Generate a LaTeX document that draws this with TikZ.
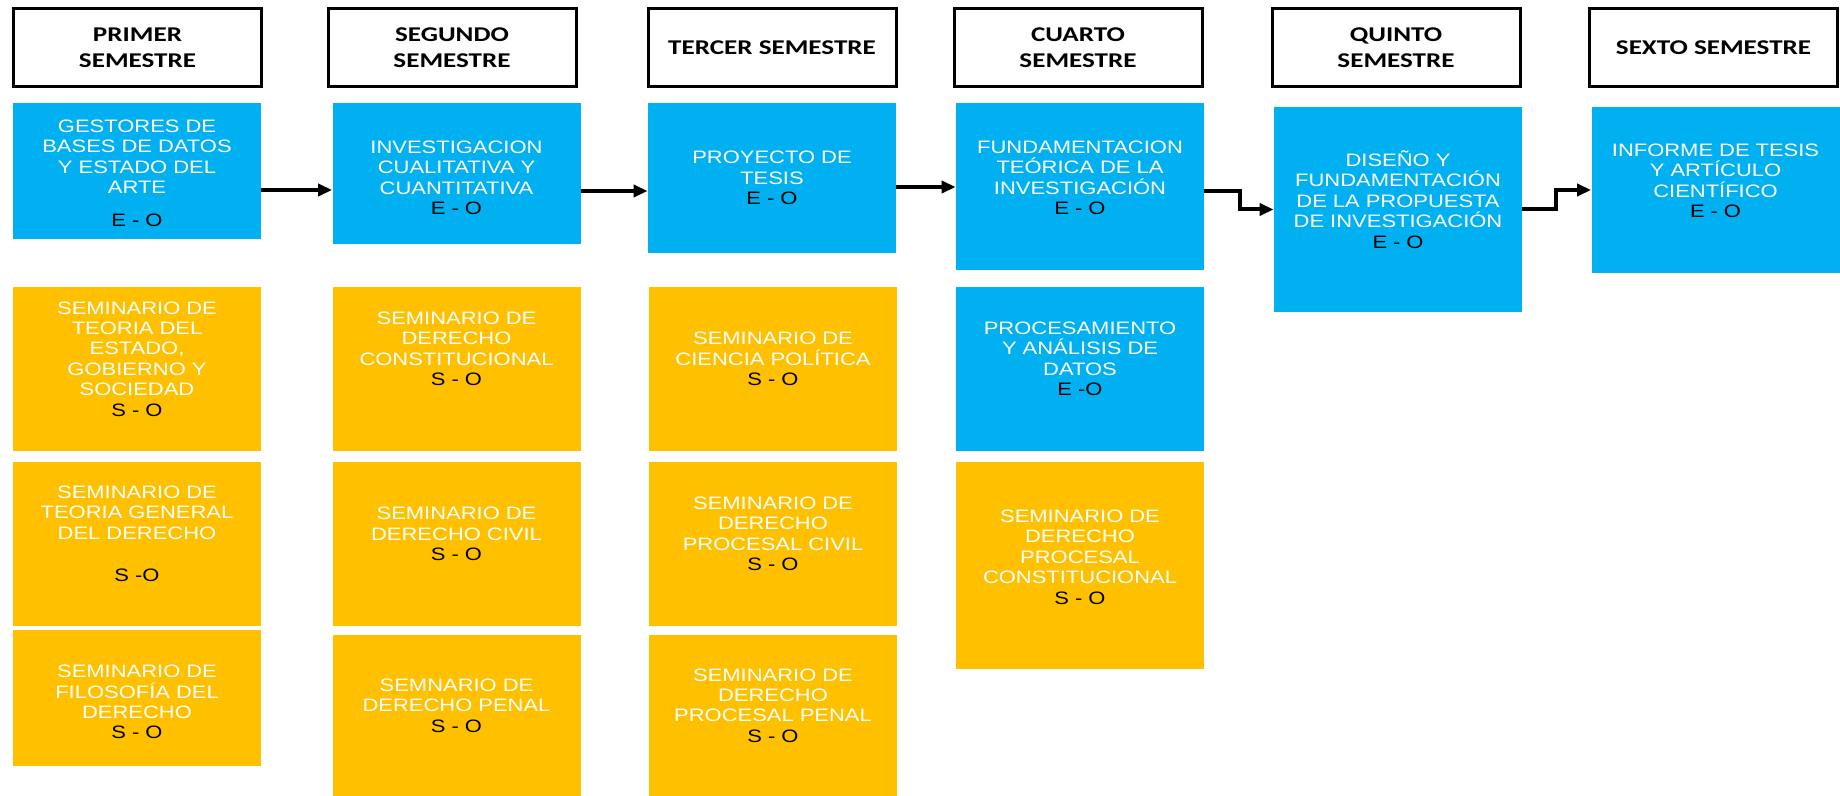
\documentclass[tikz,border=0pt]{standalone}
\usepackage{fontspec}
\usepackage{xcolor}
\usepackage{tikz}
\usetikzlibrary{arrows.meta}
\newfontfamily\cajafont{Liberation Sans}[FakeStretch=1.22]
\newfontfamily\titulofont{Carlito}[FakeStretch=1.29]
\definecolor{celeste}{HTML}{00B0F0}
\definecolor{ambar}{HTML}{FFC000}
\newcommand{\clave}[1]{\textcolor{black}{#1}}
\tikzset{semestre/.style={draw,line width=1.5pt,fill=white,minimum width=124pt,minimum height=39pt,
   inner sep=0pt,align=center,font=\titulofont\bfseries\fontsize{10.5}{13}\selectfont},
 subir/.code={\def\desplaza{#1}},
 caja/.style={minimum width=124pt,inner sep=0pt,text width=120pt,align=center,text=white,
   font=\cajafont\fontsize{9}{10.2}\selectfont,subir=10pt,execute at end node={\par\kern\desplaza}},
 azul/.style={caja,fill=celeste},
 oro/.style={caja,fill=ambar},
 flecha/.style={line width=2pt,-{Triangle[length=7pt,width=6pt]}},
 }

\begin{document}
\begin{tikzpicture}[x=0.5pt,y=-0.5pt]
        \useasboundingbox (0,0) rectangle (1840,796);
        \node[semestre] (t1) at (137.5,47.5) {PRIMER\\SEMESTRE};
        \node[semestre] (t2) at (452,47.5) {SEGUNDO\\SEMESTRE};
        \node[semestre] (t3) at (772,47.5) {TERCER SEMESTRE};
        \node[semestre] (t4) at (1078,47.5) {CUARTO\\SEMESTRE};
        \node[semestre] (t5) at (1396,47.5) {QUINTO\\SEMESTRE};
        \node[semestre] (t6) at (1713.5,47.5) {SEXTO SEMESTRE};

        \node[azul,minimum height=68pt,subir=-2.5pt] (c1) at (137,171)
            {GESTORES DE\\BASES DE DATOS\\Y ESTADO DEL\\ARTE\\[6.5pt]\clave{E - O}};
        \node[azul,minimum height=70.5pt,subir=-4.5pt] (c2) at (456.5,173.5)
            {INVESTIGACION\\CUALITATIVA Y\\CUANTITATIVA\\\clave{E - O}};
        \node[azul,minimum height=75pt,subir=0pt] (c3) at (772,178)
            {PROYECTO DE\\TESIS\\\clave{E - O}};
        \node[azul,minimum height=83.5pt,subir=8.5pt] (c4) at (1080,186.5)
            {FUNDAMENTACION\\TEÓRICA DE LA\\INVESTIGACIÓN\\\clave{E - O}};
        \node[azul,minimum height=102.5pt] (c5) at (1398,209.5)
            {DISEÑO Y\\FUNDAMENTACIÓN\\DE LA PROPUESTA\\DE INVESTIGACIÓN\\\clave{E - O}};
        \node[azul,minimum height=83pt,subir=9pt] (c6) at (1715.5,190)
            {INFORME DE TESIS\\Y ARTÍCULO\\CIENTÍFICO\\\clave{E - O}};

        \node[oro,minimum height=82pt] (s11) at (137,369)
            {SEMINARIO DE\\TEORIA DEL\\ESTADO,\\GOBIERNO Y\\SOCIEDAD\\\clave{S - O}};
        \node[oro,minimum height=82pt] (s12) at (137,544)
            {SEMINARIO DE\\TEORIA GENERAL\\DEL DERECHO\\[11pt]\clave{S -O}};
        \node[oro,minimum height=68pt,subir=-4pt] (s13) at (137,698)
            {SEMINARIO DE\\FILOSOFÍA DEL\\DERECHO\\\clave{S - O}};
        \node[oro,minimum height=82pt,subir=20pt] (s21) at (456.5,369)
            {SEMINARIO DE\\DERECHO\\CONSTITUCIONAL\\\clave{S - O}};
        \node[oro,minimum height=82pt] (s22) at (456.5,544)
            {SEMINARIO DE\\DERECHO CIVIL\\\clave{S - O}};
        \node[oro,minimum height=80.5pt] (s23) at (456.5,715.5)
            {SEMNARIO DE\\DERECHO PENAL\\\clave{S - O}};
        \node[oro,minimum height=82pt] (s31) at (773,369)
            {SEMINARIO DE\\CIENCIA POLÍTICA\\\clave{S - O}};
        \node[oro,minimum height=82pt] (s32) at (773,544)
            {SEMINARIO DE\\DERECHO\\PROCESAL CIVIL\\\clave{S - O}};
        \node[oro,minimum height=80.5pt] (s33) at (773,715.5)
            {SEMINARIO DE\\DERECHO\\PROCESAL PENAL\\\clave{S - O}};
        \node[azul,minimum height=82pt] (c4b) at (1080,369)
            {PROCESAMIENTO\\Y ANÁLISIS DE\\DATOS\\\clave{E -O}};
        \node[oro,minimum height=103.5pt,subir=8.5pt] (s41) at (1080,565.5)
            {SEMINARIO DE\\DERECHO\\PROCESAL\\CONSTITUCIONAL\\\clave{S - O}};

        \draw[flecha] ([yshift=-9.5pt]c1.east) -- ([yshift=-9.5pt]c1.east -| c2.west);
        \draw[flecha] ([yshift=-8.75pt]c2.east) -- ([yshift=-8.75pt]c2.east -| c3.west);
        \draw[flecha] ([yshift=-4.5pt]c3.east) -- ([yshift=-4.5pt]c3.east -| c4.west);
        \draw[flecha] ([yshift=-2.25pt]c4.east) -- ++(36,0) |- (c5.west);
        \draw[flecha] (c5.east) -- ++(34,0) |- (c6.west);
    \end{tikzpicture}
\end{document}
